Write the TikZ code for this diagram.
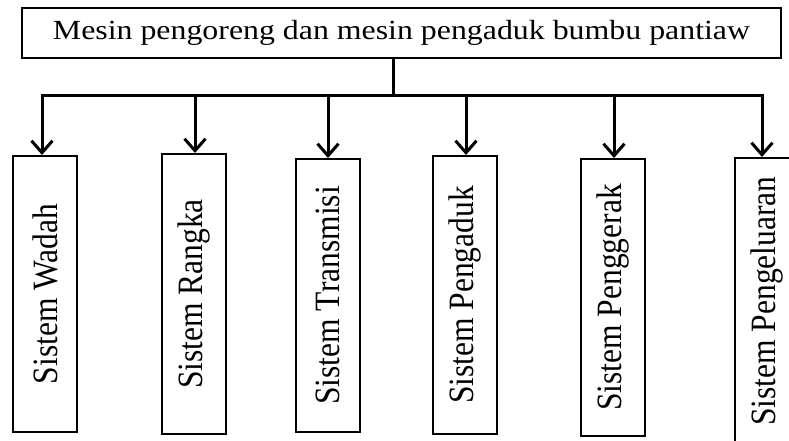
\documentclass[tikz,border=0pt]{standalone}
\usepackage{fontspec}
\setmainfont{Liberation Serif}
\usetikzlibrary{arrows.meta}
\newcommand{\wide}[1]{\scalebox{1.15}[1]{#1}}
\newcommand{\tall}[1]{\scalebox{1}[1.13]{#1}}

\begin{document}
\begin{tikzpicture}[
            x=1pt, y=-1pt,
            >={Straight Barb[width=21pt,length=12pt]},
                base/.style = {rectangle, draw=black, line width=2pt,
                            inner sep=0pt, text centered},
                mainBox/.style = {base, minimum width=759pt, minimum height=50pt,
                            font=\fontsize{27.7}{32}\selectfont},
                subBox/.style = {base, rotate=90, minimum height=64pt,
                            font=\fontsize{31.5}{36}\selectfont},
                link/.style = {line width=3pt, line join=miter}]
            \useasboundingbox (0,0) rectangle (789,440);
            \node (top) [mainBox] at (401.5,33) {
                \wide{Mesin pengoreng dan mesin pengaduk bumbu pantiaw}
            };
            \node (b1) [subBox, minimum width=276pt] at (45,294) {\tall{Sistem Wadah}};
            \node (b2) [subBox, minimum width=280pt] at (194,294) {\tall{Sistem Rangka}};
            \node (b3) [subBox, minimum width=273pt] at (327.5,295.5) {\tall{Sistem Transmisi}};
            \node (b4) [subBox, minimum width=278pt] at (464.5,295) {\tall{Sistem Pengaduk}};
            \node (b5) [subBox, minimum width=277pt] at (612.5,297.5) {\tall{Sistem Penggerak}};
            \node (b6) [subBox, minimum width=286pt] at (767,301) {\tall{Sistem Pengeluaran}};
            \coordinate (hub) at (393,95);
            \coordinate (j1) at (42,95);
            \coordinate (j2) at (195,95);
            \coordinate (j3) at (328,95);
            \coordinate (j4) at (466,95);
            \coordinate (j5) at (614,95);
            \coordinate (j6) at (762,95);
            \draw[link] (top.south -| hub) -- (hub);
            \draw[link, ->] (hub) -- (j1) -- (j1 |- b1.east);
            \draw[link, ->] (hub) -- (j6) -- (j6 |- b6.east);
            \draw[link, ->] (j2) -- (j2 |- b2.east);
            \draw[link, ->] (j3) -- (j3 |- b3.east);
            \draw[link, ->] (j4) -- (j4 |- b4.east);
            \draw[link, ->] (j5) -- (j5 |- b5.east);
        \end{tikzpicture}
\end{document}
